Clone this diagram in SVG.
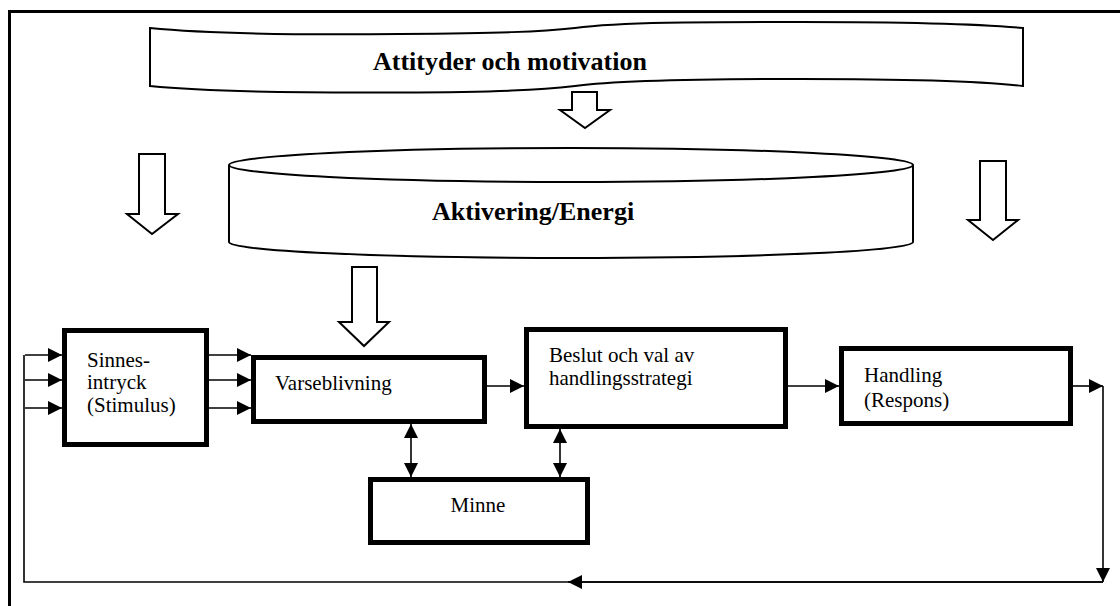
<svg xmlns="http://www.w3.org/2000/svg" width="1120" height="606" viewBox="0 0 1120 606">
<style>
.frame{fill:none;stroke:#000;stroke-width:3}
.shape{fill:#fff;stroke:#000;stroke-width:2}
.box{fill:#fff;stroke:#000;stroke-width:5}
.hollow{fill:#fff;stroke:#000;stroke-width:2;stroke-linejoin:miter}
.line{fill:none;stroke:#000;stroke-width:1.6}
.big{font-family:"Liberation Serif",serif;font-weight:bold;font-size:26px;fill:#000}
.lbl{font-family:"Liberation Serif",serif;font-size:21px;fill:#000}
</style>
<defs>
<marker id="ah" viewBox="0 0 14 14" refX="14" refY="7" markerWidth="14" markerHeight="14" markerUnits="userSpaceOnUse" orient="auto-start-reverse">
<path d="M0,0 L14,7 L0,14 Z" fill="#000"/>
</marker>
</defs>
<rect width="1120" height="606" fill="#fff"/>
<rect class="frame" x="9.5" y="11.5" width="1130" height="620"/>

<g id="attityder">
<path class="shape" d="M150,28 C200,33 300,35 400,34 C500,33 540,32 575,28 C620,22 700,22 800,22 C900,22 980,24 1023,28 V86 C980,81 900,79 800,79 C700,79 620,80 575,86 C540,90 500,92 400,92.5 C300,93 200,91 150,86 Z"/>
<text class="big" x="510" y="70" text-anchor="middle">Attityder och motivation</text>
</g>

<g id="aktivering">
<path class="shape" d="M229,165 A342,17 0 0,1 913,165 V242 A342,16 0 0,1 229,242 Z"/>
<path class="shape" fill="none" d="M229,165 A342,17 0 0,0 913,165"/>
<text class="big" x="533" y="220" text-anchor="middle">Aktivering/Energi</text>
</g>

<g id="hollow-arrows">
<polygon class="hollow" points="572,92 597,92 597,110 610,110 585,128 560,110 572,110"/>
<polygon class="hollow" points="139,154 165,154 165,214 178,214 152,234 127,214 139,214"/>
<polygon class="hollow" points="980,161 1006,161 1006,220 1018,220 993,240 968,220 980,220"/>
<polygon class="hollow" points="352,267 377,267 377,322 389,322 364,346 339,322 352,322"/>
</g>

<g id="sinnesintryck">
<rect class="box" x="64.5" y="330.5" width="142" height="114"/>
<text class="lbl" x="87" y="367">Sinnes-</text>
<text class="lbl" x="87" y="389">intryck</text>
<text class="lbl" x="87" y="412">(Stimulus)</text>
</g>

<g id="varseblivning">
<rect class="box" x="253.5" y="357.5" width="231" height="64"/>
<text class="lbl" x="275" y="390">Varseblivning</text>
</g>

<g id="beslut">
<rect class="box" x="526.5" y="329.5" width="259" height="97"/>
<text class="lbl" x="549" y="362">Beslut och val av</text>
<text class="lbl" x="549" y="385">handlingsstrategi</text>
</g>

<g id="handling">
<rect class="box" x="841.5" y="348.5" width="229" height="75"/>
<text class="lbl" x="864" y="382">Handling</text>
<text class="lbl" x="864" y="407">(Respons)</text>
</g>

<g id="minne">
<rect class="box" x="370.5" y="479.5" width="217" height="63"/>
<text class="lbl" x="478" y="512" text-anchor="middle">Minne</text>
</g>

<g id="connectors">
<line class="line" x1="25" y1="355" x2="62" y2="355" marker-end="url(#ah)"/>
<line class="line" x1="25" y1="380" x2="62" y2="380" marker-end="url(#ah)"/>
<line class="line" x1="25" y1="408" x2="62" y2="408" marker-end="url(#ah)"/>
<line class="line" x1="209" y1="355" x2="251" y2="355" marker-end="url(#ah)"/>
<line class="line" x1="209" y1="380" x2="251" y2="380" marker-end="url(#ah)"/>
<line class="line" x1="209" y1="408" x2="251" y2="408" marker-end="url(#ah)"/>
<line class="line" x1="487" y1="386" x2="524" y2="386" marker-end="url(#ah)"/>
<line class="line" x1="788" y1="386" x2="839" y2="386" marker-end="url(#ah)"/>
<line class="line" x1="411" y1="424" x2="411" y2="477" marker-start="url(#ah)" marker-end="url(#ah)"/>
<line class="line" x1="560" y1="429" x2="560" y2="477" marker-start="url(#ah)" marker-end="url(#ah)"/>
<line class="line" x1="1073" y1="386" x2="1103" y2="386" marker-end="url(#ah)"/>
<line class="line" x1="1103" y1="386" x2="1103" y2="582" marker-end="url(#ah)"/>
<polyline class="line" points="1103,582 24,582 24,355"/>
<line class="line" x1="1103" y1="582" x2="568" y2="582" marker-end="url(#ah)"/>
</g>
</svg>
